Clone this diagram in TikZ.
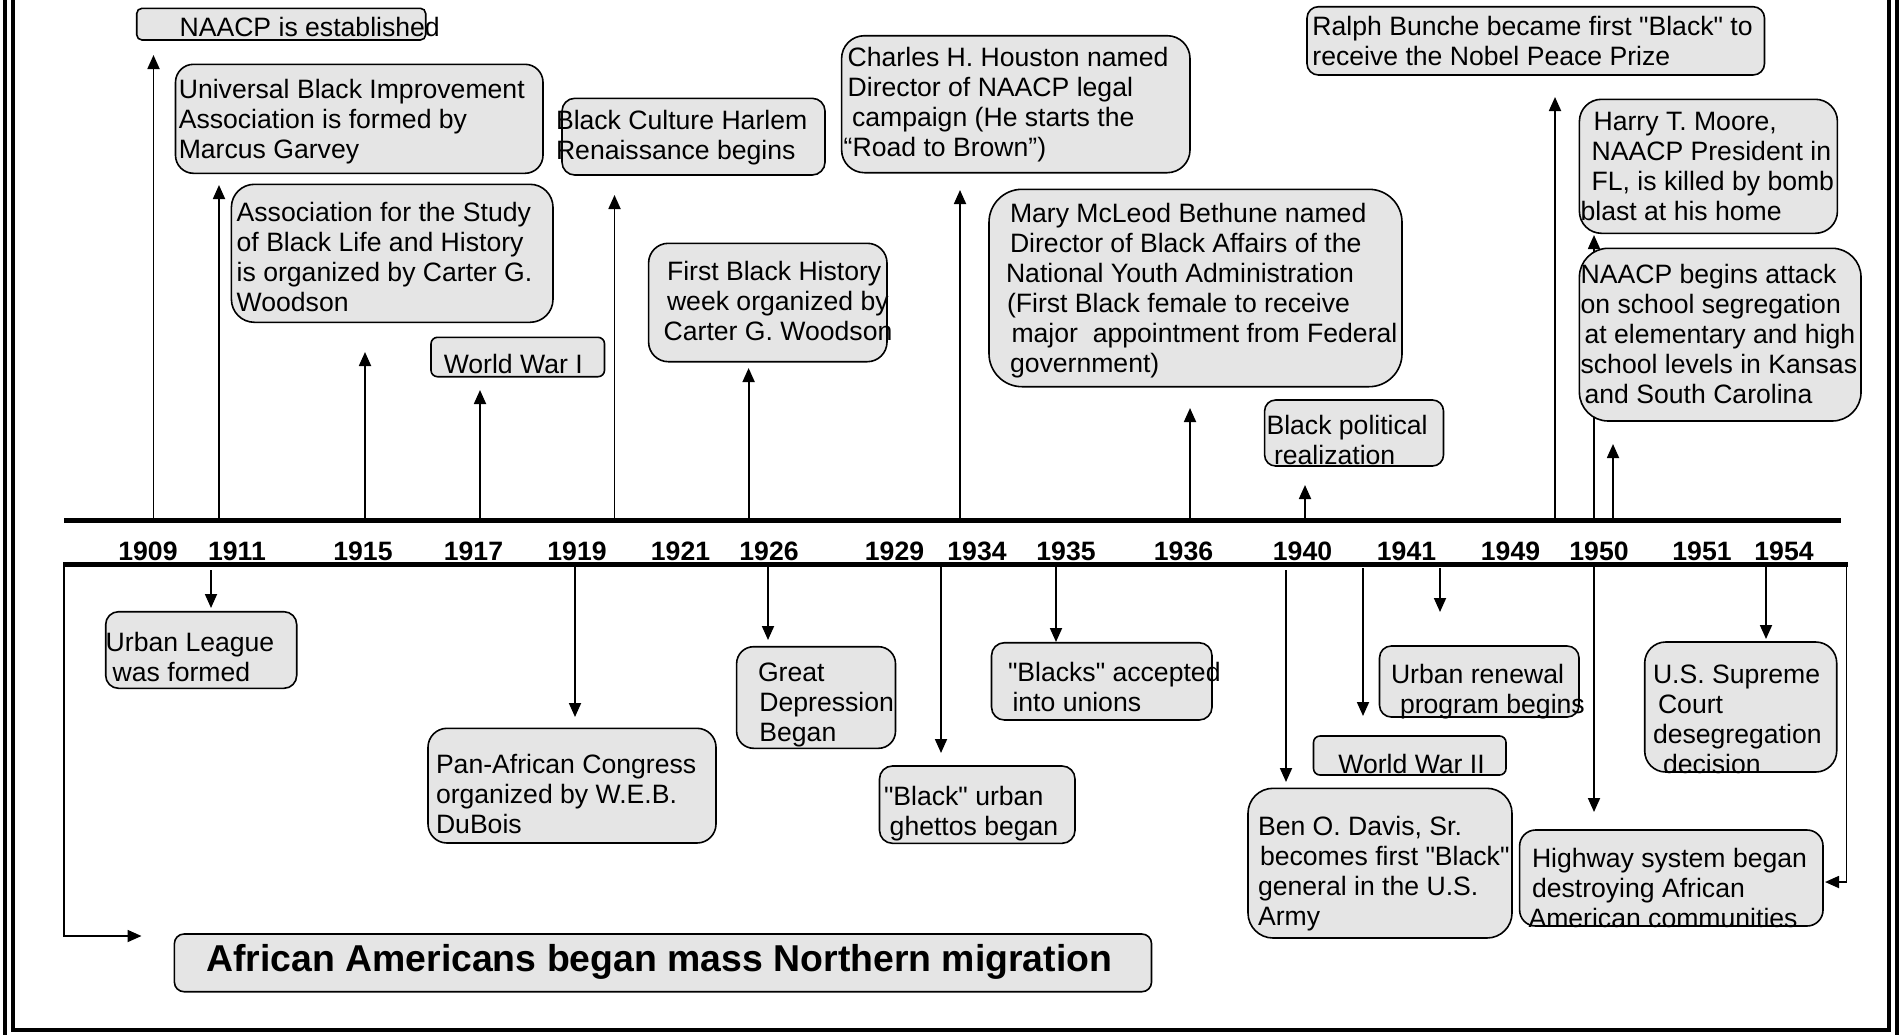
\documentclass[tikz,border=0pt]{standalone}
\usepackage{fontspec}
\setmainfont{Liberation Sans}[Ligatures=TeXOff]
\usetikzlibrary{arrows.meta}
\tikzset{
  box/.style={draw=black, line width=1.6pt, fill=black!10, inner sep=0pt, outer sep=0pt},
  txt/.style={anchor=base west, inner sep=0pt, outer sep=0pt, align=left, font=\fontsize{26.6}{30}\selectfont},
  yr/.style={anchor=base, inner sep=0pt, font=\fontsize{26.6}{30}\selectfont\bfseries},
  big/.style={anchor=base west, inner sep=0pt, font=\fontsize{37.4}{44}\selectfont\bfseries},
  arr/.style={line width=1.8pt, -{Triangle[length=14pt,width=12pt]}},
  tl/.style={line width=5pt},
  frame/.style={line width=4pt},
}
\newcommand\mybox[6]{\node[box, minimum width={#4pt-#2pt}, minimum height={#5pt-#3pt}, rounded corners={#6pt}] (#1) at ({(#2+#4)/2},{(#3+#5)/2}) {};}
\newcommand\uparr[3]{\coordinate (#1s) at (#2,520.5); \coordinate (#1e) at (#2,#3); \draw[arr] (#1s) -- (#1e);}
\newcommand\dnarr[4]{\coordinate (#1s) at (#2,#3); \coordinate (#1e) at (#2,#4); \draw[arr] (#1s) -- (#1e);}
\begin{document}
\begin{tikzpicture}[x=1pt,y=-1pt]
\useasboundingbox (0,0) rectangle (1902,1034);
\clip (0,0) rectangle (1902,1034);
% frame
\draw[frame] (5.3,-10) -- (5.3,1050);
\draw[frame] (1897,-10) -- (1897,1050);
\draw[frame] (13,-10) -- (13,1030) -- (1889,1030) -- (1889,-10);
% up arrows
\uparr{a1909}{153.5}{55}
\uparr{a1911}{219}{185}
\uparr{a1915}{365}{352}
\uparr{a1917}{480}{390}
\uparr{a1919}{614.5}{195}
\uparr{a1926}{748.6}{368}
\uparr{a1934}{960}{190}
\uparr{a1936}{1190}{408}
\uparr{a1940}{1305}{485}
\uparr{aralph}{1555}{97}
\uparr{aharry}{1594}{235}
\uparr{anaacp}{1613}{444}
% down arrows
\dnarr{durban}{211}{570}{608}
\dnarr{dpan}{575}{566}{717}
\dnarr{dgreat}{768}{566}{640}
\dnarr{dghetto}{941}{566}{753}
\dnarr{dunion}{1056}{566}{642}
\dnarr{dben}{1286}{570}{782}
\dnarr{dwwii}{1363}{568}{716}
\dnarr{drenew}{1440}{568}{612}
\dnarr{dhigh}{1594}{566}{812}
\dnarr{dsup}{1766}{566}{639}
% side connectors
\coordinate (lc1) at (64,564); \coordinate (lc2) at (64,936); \coordinate (lc3) at (141.5,936);
\draw[arr] (lc1) -- (lc2) -- (lc3);
\coordinate (rc1) at (1846.5,564); \coordinate (rc2) at (1846.5,882); \coordinate (rc3) at (1825,882);
\draw[arr] (rc1) -- (rc2) -- (rc3);
% timeline
\coordinate (L1a) at (64,520.5); \coordinate (L1b) at (1841,520.5);
\coordinate (L2a) at (63,564); \coordinate (L2b) at (1848,564);
\draw[tl] (L1a) -- (L1b);
\draw[tl] (L2a) -- (L2b);
% boxes
\mybox{b1}{136.7}{8.3}{425.7}{40}{5.3}
\mybox{b2}{175.5}{64.3}{543}{173.3}{18}
\mybox{b3}{231.4}{184.3}{553}{322.3}{23}
\mybox{b4}{431}{337.3}{604.5}{376.7}{6.5}
\mybox{b5}{562}{98.3}{825}{175}{12.8}
\mybox{b6}{648.6}{243.3}{887}{361.7}{19.7}
\mybox{b7}{841.6}{35.7}{1190}{172.7}{22.8}
\mybox{b8}{989}{189.3}{1402}{386.7}{33}
\mybox{b9}{1264.6}{400}{1443.5}{466}{11}
\mybox{b10}{1307}{6.7}{1764.5}{75}{11.4}
\mybox{b11}{1579.4}{99.3}{1837.4}{233.3}{22}
\mybox{b12}{1579.4}{248.3}{1861}{421}{28.8}
\mybox{b13}{105.7}{611.7}{296.7}{688.3}{12.8}
\mybox{b14}{428}{728.3}{716}{843}{19}
\mybox{b15}{736.6}{646.7}{895.5}{748.3}{17}
\mybox{b16}{879.5}{766}{1075}{843.3}{12.9}
\mybox{b17}{991.5}{642.7}{1212}{720}{12.9}
\mybox{b18}{1248}{788.3}{1512}{938}{25}
\mybox{b19}{1313.5}{736}{1506}{775}{6.5}
\mybox{b20}{1379.5}{646}{1579}{717}{11.8}
\mybox{b21}{1519.6}{830}{1823}{926}{16}
\mybox{b22}{1644.7}{642}{1836.7}{772}{21}
\mybox{b23}{174.4}{934}{1151.5}{991.7}{9.6}
% texts (anchored at the baseline of the last line)
\node[txt] (t1) at (179.6,36.7) {NAACP is established};
\node[txt] (t2) at (178.8,158.3) {Universal Black Improvement\\Association is formed by\\Marcus Garvey};
\node[txt] (t3) at (236.7,311.7) {Association for the Study\\of Black Life and History\\is organized by Carter G.\\Woodson};
\node[txt] (t4) at (443.8,373.3) {World War I};
\node[txt] (t5) at (556,159.5) {Black Culture Harlem\\Renaissance begins};
\node[txt] (t6) at (663.7,340) {\hspace*{3.3pt}First Black History\\\hspace*{3.3pt}week organized by\\Carter G. Woodson};
\node[txt] (t7) at (843.7,156.7) {\hspace*{4pt}Charles H. Houston named\\\hspace*{4pt}Director of NAACP legal\\\hspace*{8.3pt}campaign (He starts the\\“Road to Brown”)};
\node[txt] (t8) at (1006,372.5) {\hspace*{4pt}Mary McLeod Bethune named\\\hspace*{4pt}Director of Black Affairs of the\\National Youth Administration\\\hspace*{1pt}(First Black female to receive\\\hspace*{5.5pt}major\ \ appointment from Federal\\\hspace*{4pt}government)};
\node[txt] (t9) at (1266.5,464) {Black political\\\hspace*{7.5pt}realization};
\node[txt] (t10) at (1312.4,65) {Ralph Bunche became first "Black" to\\receive the Nobel Peace Prize};
\node[txt] (t11) at (1580.6,220) {\hspace*{13pt}Harry T. Moore,\\\hspace*{11pt}NAACP President in\\\hspace*{11pt}FL, is killed by bomb\\blast at his home};
\node[txt] (t12) at (1580.6,403) {NAACP begins attack\\on school segregation\\\hspace*{4pt}at elementary and high\\school levels in Kansas\\\hspace*{4pt}and South Carolina};
\node[txt] (t13) at (105.7,681.7) {Urban League\\\hspace*{7pt}was formed};
\node[txt] (t14) at (436,833.3) {Pan-African Congress\\organized by W.E.B.\\DuBois};
\node[txt] (t15) at (758,741.7) {Great\\\hspace*{1.4pt}Depression\\\hspace*{1.4pt}Began};
\node[txt] (t16) at (884,835) {"Black" urban\\\hspace*{5.7pt}ghettos began};
\node[txt] (t17) at (1008,711.7) {"Blacks" accepted\\\hspace*{4.5pt}into unions};
\node[txt] (t18) at (1258,925) {Ben O. Davis, Sr.\\\hspace*{2pt}becomes first "Black"\\general in the U.S.\\Army};
\node[txt] (t19) at (1338.4,773) {World War II};
\node[txt] (t20) at (1391,713) {Urban renewal\\\hspace*{9pt}program begins};
\node[txt] (t21) at (1532,927) {Highway system began\\destroying African\\\hspace*{-3.5pt}American communities};
\node[txt] (t22) at (1653,773) {U.S. Supreme\\\hspace*{5pt}Court\\desegregation\\\hspace*{10pt}decision};
\node[big] (t23) at (206,971.7) {African Americans began mass Northern migration};
% years
\node[yr] (y1909) at (148,560) {1909};
\node[yr] (y1911) at (237,560) {1911};
\node[yr] (y1915) at (363,560) {1915};
\node[yr] (y1917) at (473.5,560) {1917};
\node[yr] (y1919) at (577,560) {1919};
\node[yr] (y1921) at (680.5,560) {1921};
\node[yr] (y1926) at (769,560) {1926};
\node[yr] (y1929) at (894.5,560) {1929};
\node[yr] (y1934) at (977,560) {1934};
\node[yr] (y1935) at (1066,560) {1935};
\node[yr] (y1936) at (1183.5,560) {1936};
\node[yr] (y1940) at (1302.5,560) {1940};
\node[yr] (y1941) at (1406.5,560) {1941};
\node[yr] (y1949) at (1510.5,560) {1949};
\node[yr] (y1950) at (1599,560) {1950};
\node[yr] (y1951) at (1702,560) {1951};
\node[yr] (y1954) at (1784,560) {1954};
\end{tikzpicture}
\end{document}
